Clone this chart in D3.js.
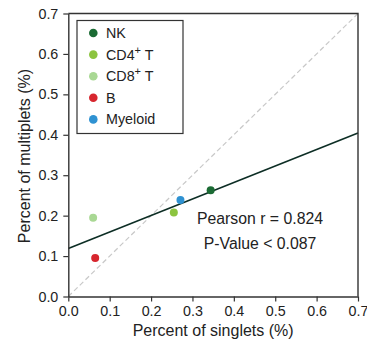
<!DOCTYPE html>
<html><head><meta charset="utf-8">
<script src="https://cdn.jsdelivr.net/npm/d3@7"></script>
<style>body{margin:0;background:#fff}</style>
</head><body>
<svg id="c" width="367" height="341"></svg>
<script>
const categories = ["NK", "CD4+ T", "CD8+ T", "B", "Myeloid"];
const singlets = [0.344, 0.255, 0.060, 0.065, 0.271];
const multiplets = [0.263, 0.208, 0.195, 0.095, 0.239];
const colors = ["#1b6b34", "#8cc43f", "#a9d894", "#d7262e", "#2f92d2"];
const ticks = [0.0, 0.1, 0.2, 0.3, 0.4, 0.5, 0.6, 0.7];
const statLines = ["Pearson r = 0.824", "P-Value < 0.087"];

const svg = d3.select("#c");
const font = "Liberation Sans, Arial, sans-serif";
const L = 68.3, R = 358, T = 13.5, B = 296.5;
const x = d3.scaleLinear().domain([0, 0.7]).range([L, R]);
const y = d3.scaleLinear().domain([0, 0.7]).range([B, T]);

// diagonal
svg.append("line").attr("x1", x(0)).attr("y1", y(0)).attr("x2", x(0.7)).attr("y2", y(0.7))
  .attr("stroke", "#c8c8c8").attr("stroke-width", 1.2).attr("stroke-dasharray", "5,3");

// regression fit
const mx = d3.mean(singlets), my = d3.mean(multiplets);
let sxy = 0, sxx = 0;
singlets.forEach((v, i) => { sxy += (v - mx) * (multiplets[i] - my); sxx += (v - mx) ** 2; });
const slope = sxy / sxx, icpt = my - slope * mx;
svg.append("line").attr("x1", x(0)).attr("y1", y(icpt)).attr("x2", x(0.7)).attr("y2", y(icpt + slope * 0.7))
  .attr("stroke", "#0d2e25").attr("stroke-width", 1.6);

// points
svg.selectAll("circle.pt").data(categories).enter().append("circle")
  .attr("cx", (d, i) => x(singlets[i])).attr("cy", (d, i) => y(multiplets[i]))
  .attr("r", 4).attr("fill", (d, i) => colors[i]);

// axes
const xa = svg.append("g").attr("transform", `translate(0,${B})`)
  .call(d3.axisBottom(x).tickValues(ticks).tickFormat(d3.format(".1f")).tickSize(5).tickSizeOuter(0));
const ya = svg.append("g").attr("transform", `translate(${L},0)`)
  .call(d3.axisLeft(y).tickValues(ticks).tickFormat(d3.format(".1f")).tickSize(5).tickSizeOuter(0));
[xa, ya].forEach(g => {
  g.select(".domain").attr("stroke", "#333").attr("stroke-width", 1.4);
  g.selectAll(".tick line").attr("stroke", "#333").attr("stroke-width", 1.2);
  g.selectAll(".tick text").attr("font-family", font).attr("font-size", 14.3).attr("fill", "#222");
});
xa.selectAll(".tick text").attr("dy", "0.8em").attr("y", 8);
ya.selectAll(".tick text").attr("x", -10);
// top & right border
svg.append("path").attr("d", `M${L},${T}H${R}V${B}`).attr("fill", "none").attr("stroke", "#333").attr("stroke-width", 1.4);

// axis titles
svg.append("text").attr("x", (L + R) / 2).attr("y", 336).attr("text-anchor", "middle")
  .attr("font-family", font).attr("font-size", 16).attr("fill", "#222").text("Percent of singlets (%)");
svg.append("text").attr("transform", `translate(30,${(T + B) / 2 + 1}) rotate(-90)`).attr("text-anchor", "middle")
  .attr("font-family", font).attr("font-size", 16).attr("fill", "#222").text("Percent of multiplets (%)");

// legend
const lg = svg.append("g");
lg.append("rect").attr("x", 77).attr("y", 20.5).attr("width", 106).attr("height", 113)
  .attr("fill", "#fff").attr("stroke", "#333").attr("stroke-width", 1.2);
categories.forEach((c, i) => {
  const cy = 33 + i * 21.6;
  lg.append("circle").attr("cx", 93.3).attr("cy", cy).attr("r", 4.3).attr("fill", colors[i]);
  const t = lg.append("text").attr("x", 106).attr("y", cy + 5).attr("font-family", font)
    .attr("font-size", 14.3).attr("fill", "#222");
  const m = c.match(/^(CD\d)\+ (T)$/);
  if (m) {
    t.append("tspan").text(m[1]);
    t.append("tspan").attr("dy", -6).attr("font-size", 11).text("+");
    t.append("tspan").attr("dy", 6).text(" " + m[2]);
  } else t.text(c);
});

// stats
statLines.forEach((s, i) => {
  svg.append("text").attr("x", 260).attr("y", 224 + i * 25.3).attr("text-anchor", "middle")
    .attr("font-family", font).attr("font-size", 15.8).attr("fill", "#222").text(s);
});
</script>
</body></html>
